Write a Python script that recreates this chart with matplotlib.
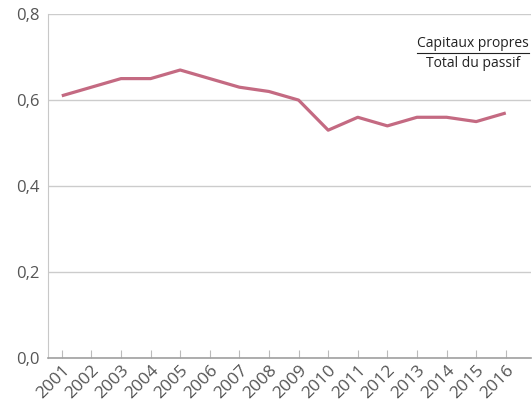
import matplotlib
matplotlib.use("Agg")
import matplotlib.pyplot as plt

years = [2001, 2002, 2003, 2004, 2005, 2006, 2007, 2008,
         2009, 2010, 2011, 2012, 2013, 2014, 2015, 2016]
ratio = [0.61, 0.63, 0.65, 0.65, 0.67, 0.65, 0.63, 0.62,
         0.60, 0.53, 0.56, 0.54, 0.56, 0.56, 0.55, 0.57]
y_ticks = [0.0, 0.2, 0.4, 0.6, 0.8]
y_labels = ["0,0", "0,2", "0,4", "0,6", "0,8"]

plt.rcParams["font.family"] = ["Open Sans", "DejaVu Sans"]

fig = plt.figure(figsize=(5.32, 4.04), dpi=100)
ax = fig.add_axes([0.090, 0.114, 0.908, 0.851])

ax.plot(years, ratio, color="#c46a82", linewidth=2.3, solid_capstyle="butt")

ax.set_xlim(2000.53, 2016.85)
ax.set_ylim(0, 0.8)
ax.set_yticks(y_ticks)
ax.set_yticklabels(y_labels, fontsize=12, color="#555555")
ax.set_xticks(years)
ax.set_xticklabels([str(y) for y in years], rotation=45, ha="right",
                   rotation_mode="anchor", fontsize=12.5, color="#555555")

ax.grid(axis="y", color="#cccccc", linewidth=1.0)
ax.set_axisbelow(True)
ax.tick_params(axis="y", length=0, pad=6)
ax.tick_params(axis="x", direction="in", length=6, width=0.8, color="#bbbbbb", pad=3)

for side in ["top", "right"]:
    ax.spines[side].set_visible(False)
ax.spines["left"].set_color("#c8c8c8")
ax.spines["bottom"].set_color("#a0a0a0")
ax.spines["bottom"].set_linewidth(1.2)

# fraction label: capitaux propres / total du passif
ax.text(0.880, 0.892, "Capitaux propres", transform=ax.transAxes,
        ha="center", va="bottom", fontsize=10, color="#222222")
ax.text(0.880, 0.878, "Total du passif", transform=ax.transAxes,
        ha="center", va="top", fontsize=10, color="#222222")
ax.plot([0.765, 0.997], [0.887, 0.887], transform=ax.transAxes,
        color="#222222", linewidth=0.8)

fig.savefig("out.png", dpi=100)
